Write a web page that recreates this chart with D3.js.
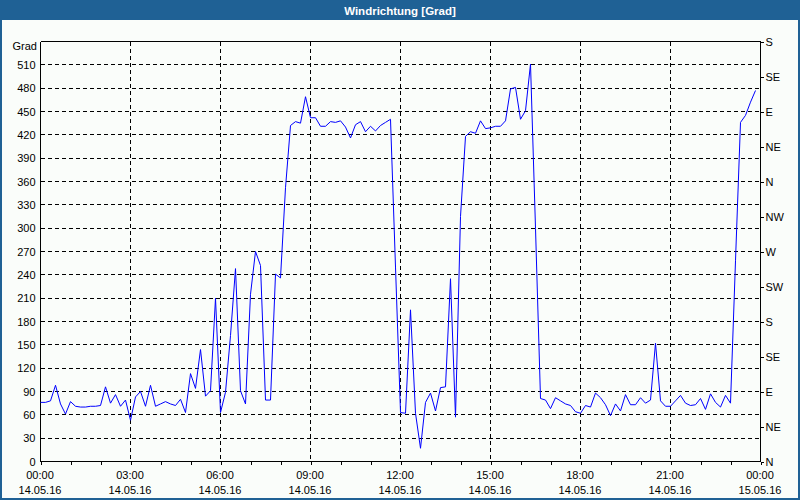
<!DOCTYPE html>
<html>
<head>
<meta charset="utf-8">
<script src="https://cdn.jsdelivr.net/npm/d3@7"></script>
<style>
  body { margin: 0; background: #fff; }
  svg { display: block; font-family: "Liberation Sans", Arial, sans-serif; }
</style>
</head>
<body>
<svg id="chart" width="800" height="500"></svg>
<script>
// Windrichtung, 10-Minuten-Werte ab 14.05.16 00:00
const startTime = new Date(2016, 4, 14, 0, 0);
const stepMinutes = 10;
const windDir = [
  76, 76, 78, 98, 74, 61, 77, 71, 70, 70, 71, 71,
  72, 96, 75, 86, 71, 79, 53, 83, 90, 71, 98, 71,
  74, 77, 74, 72, 80, 63, 113, 94, 144, 84, 91, 210,
  63, 89, 162, 248, 91, 74, 215, 270, 252, 79, 79, 241,
  236, 352, 432, 437, 435, 469, 442, 442, 431, 431, 437, 436,
  438, 430, 416, 433, 437, 424, 431, 425, 432, 436, 440, 250,
  63, 62, 195, 62, 17, 76, 88, 65, 95, 96, 235, 57,
  315, 418, 424, 422, 438, 428, 429, 431, 431, 438, 479, 481,
  440, 451, 511, 300, 81, 79, 68, 82, 78, 74, 72, 64,
  62, 72, 70, 88, 82, 73, 59, 74, 65, 86, 73, 73,
  82, 75, 79, 152, 78, 71, 71, 78, 85, 75, 72, 73,
  81, 67, 87, 76, 70, 85, 75, 258, 436, 445, 462, 477
];
const leftTicks = [0, 30, 60, 90, 120, 150, 180, 210, 240, 270, 300, 330, 360, 390, 420, 450, 480, 510];
const rightTicks = [0, 45, 90, 135, 180, 225, 270, 315, 360, 405, 450, 495, 540];
const rightLabels = ["N", "NE", "E", "SE", "S", "SW", "W", "NW", "N", "NE", "E", "SE", "S"];
const timeLabels = ["00:00", "03:00", "06:00", "09:00", "12:00", "15:00", "18:00", "21:00", "00:00"];
const dateLabels = ["14.05.16", "14.05.16", "14.05.16", "14.05.16", "14.05.16", "14.05.16", "14.05.16", "14.05.16", "15.05.16"];

const blue = "#1f6195";
const svg = d3.select("#chart");

// Rahmen + Titelleiste
svg.append("rect").attr("x", 1).attr("y", 1).attr("width", 798).attr("height", 498)
  .attr("fill", "#fafdfa").attr("stroke", blue).attr("stroke-width", 2);
svg.append("rect").attr("x", 0).attr("y", 0).attr("width", 800).attr("height", 20).attr("fill", blue);
svg.append("text").attr("x", 400).attr("y", 14.5).attr("text-anchor", "middle")
  .attr("fill", "#fff").attr("font-size", "11.5px").attr("font-weight", "bold")
  .text("Windrichtung [Grad]");

const x0 = 40, x1 = 760, yTop = 41, yBot = 461;
const endTime = d3.timeDay.offset(startTime, 1);
const x = d3.scaleTime().domain([startTime, endTime]).range([x0, x1]);
const y = d3.scaleLinear().domain([0, 540]).range([yBot, yTop]);

const g = svg.append("g").attr("transform", "translate(0.5,0.5)");

// Gitter
const grid = g.append("g").attr("stroke", "#000").attr("stroke-dasharray", "4,3")
  .attr("shape-rendering", "crispEdges");
grid.selectAll("line.h").data(leftTicks.filter(d => d > 0)).join("line")
  .attr("class", "h")
  .attr("x1", x0).attr("x2", x1)
  .attr("y1", d => Math.round(y(d))).attr("y2", d => Math.round(y(d)));
const gridTimes = d3.timeHour.every(3).range(startTime, endTime).slice(1);
grid.selectAll("line.v").data(gridTimes).join("line")
  .attr("class", "v")
  .attr("x1", d => Math.round(x(d))).attr("x2", d => Math.round(x(d)))
  .attr("y1", yTop).attr("y2", yBot);

// Rahmen Plotbereich
g.append("line").attr("x1", x0).attr("x2", x1).attr("y1", yTop).attr("y2", yTop)
  .attr("stroke", "#000").attr("shape-rendering", "crispEdges");

// Achsen
const xAxis = d3.axisBottom(x).ticks(d3.timeHour.every(1)).tickSize(3).tickFormat("");
const ax = g.append("g").attr("transform", `translate(0,${yBot})`).call(xAxis);
ax.select(".domain").attr("d", `M${x0},0H${x1}`);

const yAxisL = d3.axisLeft(y).tickValues(leftTicks).tickSize(0).tickPadding(5);
const axl = g.append("g").attr("transform", `translate(${x0},0)`).call(yAxisL);
axl.select(".domain").attr("d", `M0,${yTop}V${yBot}`);

const yAxisR = d3.axisRight(y).tickValues(rightTicks).tickSize(3).tickPadding(2)
  .tickFormat((d, i) => rightLabels[i]);
const axr = g.append("g").attr("transform", `translate(${x1},0)`).call(yAxisR);
axr.select(".domain").attr("d", `M0,${yTop}V${yBot}`);

svg.selectAll(".tick text").attr("font-size", "11px").attr("font-family", "Liberation Sans, Arial, sans-serif").attr("fill", "#000");
svg.selectAll(".domain, .tick line").attr("shape-rendering", "crispEdges");

// Grad-Beschriftung
svg.append("text").attr("x", 37).attr("y", 50).attr("text-anchor", "end")
  .attr("font-size", "11px").text("Grad");

// Zeitbeschriftung
const labelTimes = d3.timeHour.every(3).range(startTime, d3.timeMinute.offset(endTime, 1));
const xl = svg.append("g").attr("font-size", "11px").attr("text-anchor", "middle");
xl.selectAll("text.t").data(labelTimes).join("text").attr("class", "t")
  .attr("x", d => x(d)).attr("y", 479).text((d, i) => timeLabels[i]);
xl.selectAll("text.d").data(labelTimes).join("text").attr("class", "d")
  .attr("x", d => x(d)).attr("y", 494).text((d, i) => dateLabels[i]);

// Datenlinie
const line = d3.line()
  .x((d, i) => x(d3.timeMinute.offset(startTime, i * stepMinutes)))
  .y(d => y(d));
g.append("path").datum(windDir).attr("d", line)
  .attr("fill", "none").attr("stroke", "#0000ff").attr("stroke-width", 1);
</script>
</body>
</html>
